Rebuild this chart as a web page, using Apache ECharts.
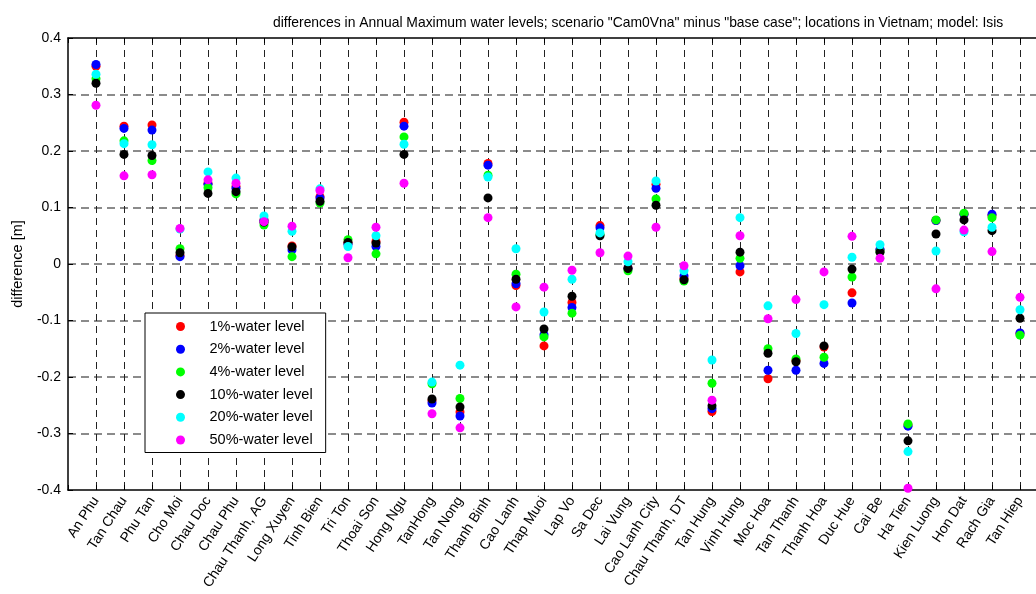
<!DOCTYPE html>
<html>
<head>
<meta charset="utf-8">
<script src="https://cdn.jsdelivr.net/npm/echarts@6/dist/echarts.min.js"></script>
<style>
html,body{margin:0;padding:0;background:#fff;}
#chart{width:1036px;height:594px;}
</style>
</head>
<body>
<div id="chart"></div>
<script>
const categories = ["An Phu","Tan Chau","Phu Tan","Cho Moi","Chau Doc","Chau Phu","Chau Thanh, AG","Long Xuyen","Tinh Bien","Tri Ton","Thoai Son","Hong Ngu","TanHong","Tan Nong","Thanh Binh","Cao Lanh","Thap Muoi","Lap Vo","Sa Dec","Lai Vung","Cao Lanh City","Chau Thanh, DT","Tan Hung","Vinh Hung","Moc Hoa","Tan Thanh","Thanh Hoa","Duc Hue","Cai Be","Ha Tien","Kien Luong","Hon Dat","Rach Gia","Tan Hiep"];

const yTicks = [-0.4,-0.3,-0.2,-0.1,0,0.1,0.2,0.3,0.4];

const seriesNames = ["1%-water level","2%-water level","4%-water level","10%-water level","20%-water level","50%-water level"];
const seriesColors = ["#ff0000","#0000ff","#00ff00","#000000","#00ffff","#ff00ff"];

const level1 = [0.350,0.244,0.246,0.015,0.143,0.137,0.078,0.032,0.119,0.038,0.040,0.251,-0.242,-0.262,0.178,-0.038,-0.145,-0.068,0.068,-0.007,0.141,-0.025,-0.261,-0.014,-0.203,-0.171,-0.147,-0.051,0.025,-0.285,0.077,0.088,0.086,-0.123];
const level2 = [0.353,0.240,0.237,0.013,0.141,0.134,0.077,0.025,0.117,0.035,0.031,0.244,-0.246,-0.269,0.175,-0.035,-0.125,-0.077,0.064,-0.008,0.134,-0.021,-0.256,-0.003,-0.188,-0.188,-0.176,-0.069,0.026,-0.287,0.077,0.088,0.088,-0.122];
const level4 = [0.328,0.218,0.183,0.027,0.135,0.124,0.069,0.013,0.108,0.043,0.018,0.225,-0.212,-0.238,0.157,-0.018,-0.129,-0.087,0.052,-0.012,0.115,-0.030,-0.211,0.010,-0.150,-0.168,-0.165,-0.023,0.022,-0.283,0.078,0.090,0.082,-0.126];
const level10 = [0.320,0.194,0.192,0.020,0.125,0.128,0.074,0.030,0.111,0.038,0.037,0.194,-0.239,-0.253,0.117,-0.027,-0.115,-0.057,0.050,-0.008,0.104,-0.028,-0.251,0.021,-0.158,-0.173,-0.145,-0.009,0.021,-0.313,0.053,0.078,0.059,-0.096];
const level20 = [0.336,0.213,0.211,0.062,0.163,0.152,0.085,0.058,0.133,0.031,0.050,0.212,-0.209,-0.179,0.154,0.027,-0.085,-0.027,0.055,0.004,0.147,-0.012,-0.170,0.082,-0.074,-0.123,-0.072,0.012,0.034,-0.332,0.023,0.057,0.065,-0.081];
const level50 = [0.281,0.156,0.158,0.063,0.149,0.143,0.075,0.067,0.130,0.011,0.065,0.143,-0.265,-0.290,0.082,-0.076,-0.041,-0.011,0.020,0.014,0.065,-0.003,-0.241,0.050,-0.097,-0.063,-0.014,0.049,0.010,-0.397,-0.044,0.060,0.022,-0.059];

const allLevels = [level1, level2, level4, level10, level20, level50];
const FONT = 'Arial, "Liberation Sans", sans-serif';

const chart = echarts.init(document.getElementById('chart'), null, {renderer: 'canvas'});

const series = allLevels.map((vals, k) => ({
  name: seriesNames[k],
  type: 'scatter',
  xAxisIndex: 0,
  yAxisIndex: 0,
  symbol: 'circle',
  symbolSize: 9,
  itemStyle: {color: seriesColors[k], opacity: 1},
  emphasis: {disabled: true},
  animation: false,
  clip: false,
  z: 2 + k,
  data: vals.map((v, i) => [i + 1, v])
}));

const option = {
  animation: false,
  backgroundColor: '#ffffff',
  textStyle: {fontFamily: FONT},
  title: {
    text: 'differences in Annual Maximum water levels; scenario "Cam0Vna" minus "base case"; locations in Vietnam; model: Isis',
    left: 268,
    top: 11,
    textStyle: {fontFamily: FONT, fontSize: 13.9, fontWeight: 'normal', color: '#000'}
  },
  legend: {
    show: true,
    orient: 'vertical',
    left: 145,
    top: 313,
    padding: [6, 13, 5, 31],
    itemWidth: 48,
    itemHeight: 9,
    itemGap: 7.7,
    icon: 'circle',
    backgroundColor: '#ffffff',
    borderColor: '#000000',
    borderWidth: 1,
    borderRadius: 0,
    selectedMode: false,
    textStyle: {fontFamily: FONT, fontSize: 14.5, color: '#000', lineHeight: 15},
    data: seriesNames
  },
  grid: {left: 68, top: 38, width: 980, height: 452, containLabel: false, outerBoundsMode: 'none'},
  xAxis: [{
    type: 'value',
    min: 0,
    max: 35,
    interval: 1,
    position: 'bottom',
    axisLine: {show: true, onZero: false, lineStyle: {color: '#000', width: 1.5}},
    axisTick: {show: true, inside: true, length: 5, lineStyle: {color: '#000'}},
    axisLabel: {
      show: true,
      rotate: 57,
      margin: 8,
      fontFamily: FONT,
      fontSize: 14,
      color: '#000',
      formatter: v => (v >= 1 && v <= categories.length && Number.isInteger(v)) ? categories[v - 1] : ''
    },
    splitLine: {show: true, showMinLine: false, showMaxLine: false, lineStyle: {color: '#222', width: 1, type: [7, 5]}}
  }, {
    type: 'value',
    min: 0,
    max: 35,
    interval: 1,
    position: 'top',
    axisLine: {show: true, onZero: false, lineStyle: {color: '#000', width: 1.5}},
    axisTick: {show: true, inside: true, length: 5, lineStyle: {color: '#000'}},
    axisLabel: {show: false},
    splitLine: {show: false}
  }],
  yAxis: [{
    type: 'value',
    min: yTicks[0],
    max: yTicks[yTicks.length - 1],
    interval: 0.1,
    name: 'difference [m]',
    nameLocation: 'middle',
    nameGap: 43,
    nameRotate: 90,
    nameTextStyle: {fontFamily: FONT, fontSize: 14.5, color: '#000'},
    axisLine: {show: true, onZero: false, lineStyle: {color: '#000', width: 1.5}},
    axisTick: {show: true, inside: true, length: 5, lineStyle: {color: '#000'}},
    axisLabel: {
      fontFamily: FONT, fontSize: 14, color: '#000', margin: 7,
      formatter: v => String(Number(v.toFixed(1)))
    },
    splitLine: {show: true, showMinLine: false, showMaxLine: false, lineStyle: {color: '#666', width: 1.5, type: [8, 5]}}
  }],
  series: series
};
chart.setOption(option);
</script>
</body>
</html>
